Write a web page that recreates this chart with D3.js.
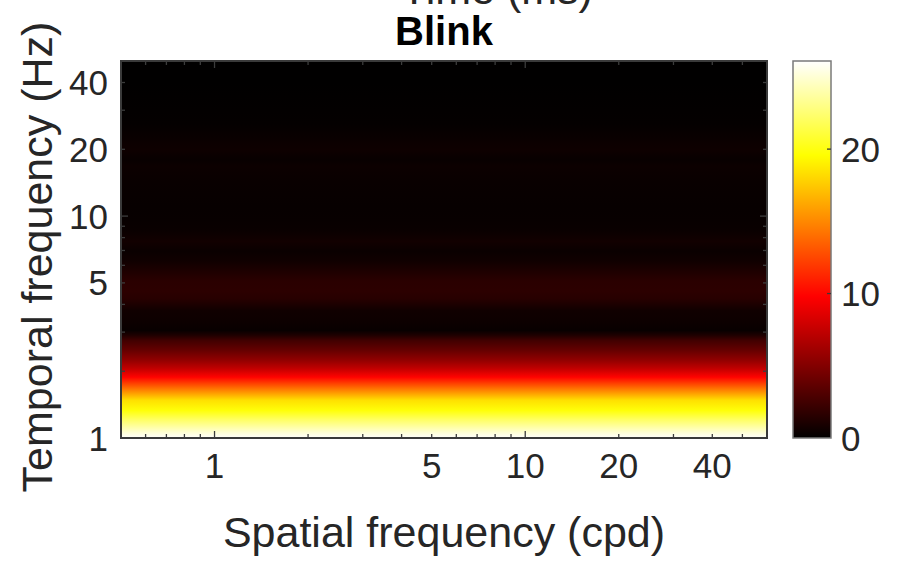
<!DOCTYPE html>
<html>
<head>
<meta charset="utf-8">
<script src="https://cdn.jsdelivr.net/npm/d3@7"></script>
<style>
  body { margin: 0; background: #fff; }
  svg { display: block; }
  text { font-family: "Liberation Sans", Arial, Helvetica, sans-serif; fill: #262626; }
</style>
</head>
<body>
<svg width="904" height="562"></svg>
<script>
// temporal frequency samples (Hz) and power
const tfHz = [1.00, 1.05, 1.12, 1.20, 1.33, 1.48, 1.64, 1.76, 1.88, 2.05, 2.24, 2.50, 2.75, 2.90, 3.05, 3.38, 3.75, 4.24, 4.60, 5.10, 5.66, 6.27, 6.96, 7.70, 8.57, 9.50, 11.0, 12.5, 14.3, 16.8, 18.0, 20.0, 22.8, 26.0, 30.0, 40.0, 50.0]
const power = [26.0, 25.2, 23.8, 22.3, 19.8, 18.4, 14.8, 12.3, 9.9, 7.5, 5.6, 3.8, 2.5, 1.2, 0.3, 0.5, 0.6, 1.5, 1.7, 1.6, 1.1, 0.6, 0.4, 0.7, 0.4, 0.3, 0.25, 0.3, 0.35, 0.45, 0.3, 0.55, 0.35, 0.15, 0.1, 0.05, 0.05]

const xTicks = [1, 5, 10, 20, 40]
const yTicks = [1, 5, 10, 20, 40]
const cTicks = [0, 10, 20]

const svg = d3.select("svg")

const plotLeft = 121, plotRight = 767, plotTop = 61, plotBottom = 438

const x = d3.scaleLog()
    .domain([0.5, 60])
    .range([plotLeft, plotRight])

const y = d3.scaleLog()
    .domain([1, 50])
    .range([plotBottom, plotTop])

const cmax = 26.1

// MATLAB-style "hot" colormap
const hot = (v) => {
    const t = Math.max(0, Math.min(1, v / cmax))
    const r = Math.min(1, t / 0.375)
    const g = Math.max(0, Math.min(1, (t - 0.375) / 0.375))
    const b = Math.max(0, Math.min(1, (t - 0.75) / 0.25))
    return d3.rgb(r * 255, g * 255, b * 255).toString()
}

const defs = svg.append("defs")

// heatmap: rows only vary with temporal frequency, shading interpolated
const grad = defs.append("linearGradient")
    .attr("id", "heat")
    .attr("gradientUnits", "userSpaceOnUse")
    .attr("x1", 0).attr("x2", 0)
    .attr("y1", plotTop).attr("y2", plotBottom)

const rows = tfHz.map((f, i) => ({f: f, v: power[i]}))
    .sort((a, b) => d3.descending(a.f, b.f))

grad.selectAll("stop")
    .data(rows)
    .enter()
    .append("stop")
    .attr("offset", d => (y(d.f) - plotTop) / (plotBottom - plotTop))
    .attr("stop-color", d => hot(d.v))

svg.append("rect")
    .attr("x", plotLeft)
    .attr("y", plotTop)
    .attr("width", plotRight - plotLeft)
    .attr("height", plotBottom - plotTop)
    .attr("fill", "url(#heat)")

// ticks on all four sides, pointing in
const tickColor = "#3c3c3c"
const xMinor = x.ticks().filter(t => t >= 0.5 && t <= 60)
const yMinor = y.ticks().filter(t => t >= 1 && t <= 50)

const isMajor = (t) => Math.abs(Math.log10(t) - Math.round(Math.log10(t))) < 1e-9

const tickG = svg.append("g").attr("stroke", tickColor).attr("stroke-width", 1.3)

tickG.selectAll("line.xb")
    .data(xMinor)
    .enter()
    .append("line")
    .attr("x1", d => x(d)).attr("x2", d => x(d))
    .attr("y1", plotBottom).attr("y2", d => plotBottom - (isMajor(d) ? 7 : 4))

tickG.selectAll("line.xt")
    .data(xMinor)
    .enter()
    .append("line")
    .attr("x1", d => x(d)).attr("x2", d => x(d))
    .attr("y1", plotTop).attr("y2", d => plotTop + (isMajor(d) ? 7 : 4))

tickG.selectAll("line.yl")
    .data(yMinor)
    .enter()
    .append("line")
    .attr("y1", d => y(d)).attr("y2", d => y(d))
    .attr("x1", plotLeft).attr("x2", d => plotLeft + (isMajor(d) ? 7 : 4))

tickG.selectAll("line.yr")
    .data(yMinor)
    .enter()
    .append("line")
    .attr("y1", d => y(d)).attr("y2", d => y(d))
    .attr("x1", plotRight).attr("x2", d => plotRight - (isMajor(d) ? 7 : 4))

// frame
svg.append("rect")
    .attr("x", plotLeft)
    .attr("y", plotTop)
    .attr("width", plotRight - plotLeft)
    .attr("height", plotBottom - plotTop)
    .attr("fill", "none")
    .attr("stroke", "#3a3a3a")
    .attr("stroke-width", 2)

// tick labels
svg.selectAll("text.xlab")
    .data(xTicks)
    .enter()
    .append("text")
    .attr("class", "xlab")
    .attr("x", d => x(d))
    .attr("y", 478)
    .attr("text-anchor", "middle")
    .attr("font-size", 35)
    .text(d => d)

svg.selectAll("text.ylab")
    .data(yTicks)
    .enter()
    .append("text")
    .attr("class", "ylab")
    .attr("x", 108)
    .attr("y", d => y(d) + 12.5)
    .attr("text-anchor", "end")
    .attr("font-size", 35)
    .text(d => d)

// axis labels and titles
svg.append("text")
    .attr("x", (plotLeft + plotRight) / 2)
    .attr("y", 547)
    .attr("text-anchor", "middle")
    .attr("font-size", 43)
    .text("Spatial frequency (cpd)")

svg.append("text")
    .attr("transform", "translate(52, 257) rotate(-90)")
    .attr("text-anchor", "middle")
    .attr("font-size", 43)
    .text("Temporal frequency (Hz)")

svg.append("text")
    .attr("x", (plotLeft + plotRight) / 2)
    .attr("y", 45)
    .attr("text-anchor", "middle")
    .attr("font-size", 40)
    .attr("font-weight", "bold")
    .style("fill", "#000")
    .text("Blink")

// title of the panel above, cut by the top edge as in the original
svg.append("text")
    .attr("x", 497)
    .attr("y", 4)
    .attr("text-anchor", "middle")
    .attr("font-size", 43)
    .text("Time (ms)")

// colorbar
const cbLeft = 793, cbRight = 831
const c = d3.scaleLinear()
    .domain([0, cmax])
    .range([plotBottom, plotTop])

const cgrad = defs.append("linearGradient")
    .attr("id", "cbar")
    .attr("x1", 0).attr("x2", 0)
    .attr("y1", 1).attr("y2", 0)

cgrad.selectAll("stop")
    .data(d3.range(0, 1.0001, 0.0625))
    .enter()
    .append("stop")
    .attr("offset", d => d)
    .attr("stop-color", d => hot(d * cmax))

svg.append("rect")
    .attr("x", cbLeft)
    .attr("y", plotTop)
    .attr("width", cbRight - cbLeft)
    .attr("height", plotBottom - plotTop)
    .attr("fill", "url(#cbar)")
    .attr("stroke", "#7a7a7a")
    .attr("stroke-width", 1.5)

svg.selectAll("line.ct")
    .data(cTicks.filter(d => d > 0))
    .enter()
    .append("line")
    .attr("x1", cbRight).attr("x2", cbRight - 4)
    .attr("y1", d => c(d)).attr("y2", d => c(d))
    .attr("stroke", "#3a3a3a")
    .attr("stroke-width", 1.3)

svg.selectAll("text.clab")
    .data(cTicks)
    .enter()
    .append("text")
    .attr("class", "clab")
    .attr("x", 841)
    .attr("y", d => c(d) + 12.5)
    .attr("font-size", 35)
    .text(d => d)
</script>
</body>
</html>
